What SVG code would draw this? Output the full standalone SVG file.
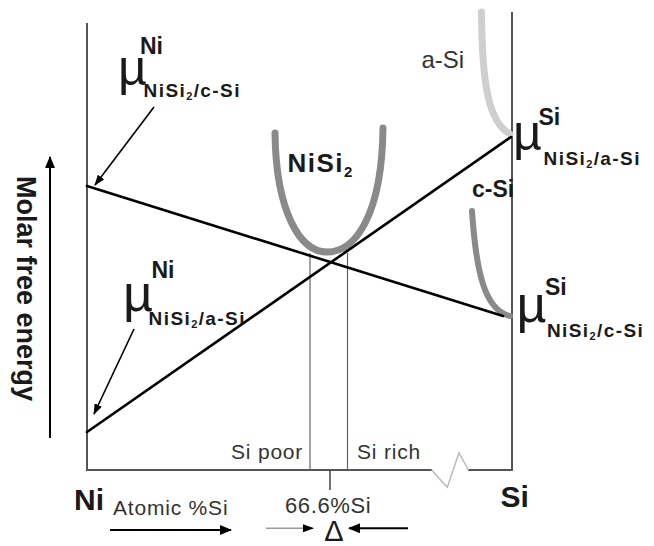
<svg xmlns="http://www.w3.org/2000/svg" width="654" height="546" viewBox="0 0 654 546">
<defs>
<style>
.t{font-family:"Liberation Sans",Arial,sans-serif;fill:#1a1a1a}
.b{font-weight:bold}
.r{fill:#333}
.mu{font-family:"Liberation Sans",Arial,sans-serif;fill:#1a1a1a}
.sub{font-family:"Liberation Sans",Arial,sans-serif;font-weight:bold;font-size:19px;letter-spacing:1.4px;fill:#1a1a1a}
.sup{font-family:"Liberation Sans",Arial,sans-serif;font-weight:bold;font-size:23px;fill:#1a1a1a}
.axis{stroke:#555;stroke-width:2;fill:none}
.thin{stroke:#666;stroke-width:1.2;fill:none}
.tan{stroke:#000;stroke-width:2.6;fill:none;stroke-linecap:round}
.curve{fill:none;stroke-linecap:round}
.arr{stroke:#000;stroke-width:1.6;fill:none}
</style>
<marker id="ah" viewBox="0 0 12 10" refX="11" refY="5" markerWidth="12" markerHeight="10" markerUnits="userSpaceOnUse" orient="auto"><path d="M0,0 L12,5 L0,10 z" fill="#000"/></marker>
<marker id="ahs" viewBox="0 0 11 8" refX="10" refY="4" markerWidth="11" markerHeight="8" markerUnits="userSpaceOnUse" orient="auto"><path d="M0,0 L11,4 L0,8 z" fill="#000"/></marker>
</defs>
<rect width="654" height="546" fill="#fff"/>

<g id="axes">
<line class="axis" x1="87" y1="23" x2="87" y2="471"/>
<line class="axis" x1="512" y1="12" x2="512" y2="471"/>
<line class="axis" x1="86" y1="470" x2="432" y2="470"/>
<line class="axis" x1="468" y1="470" x2="513" y2="470"/>
<polyline points="431.5,470 447.3,487.3 459,452.7 468.5,470.5" fill="none" stroke="#bbb" stroke-width="1.5"/>
<line class="thin" x1="310" y1="253" x2="310" y2="470"/>
<line class="thin" x1="347.5" y1="253" x2="347.5" y2="470"/>
<line x1="330" y1="470" x2="330" y2="490" stroke="#444" stroke-width="1.5"/>
</g>

<g id="yaxis-label">
<line x1="50" y1="438" x2="50" y2="157" stroke="#000" stroke-width="2" marker-end="url(#ah)"/>
<text class="t b" font-size="27" transform="translate(17,176) rotate(90)" x="0" y="0">Molar free energy</text>
</g>

<g id="curve-nisi2">
<path class="curve" d="M275,133 C276,212 300,252 327,252 C356,252 382,214 383,128" stroke="#8a8a8a" stroke-width="7"/>
<text class="t b" x="287.5" y="171.7" font-size="26" letter-spacing="1.5">NiSi<tspan font-size="15" dy="5">2</tspan></text>
</g>

<g id="curve-asi">
<path class="curve" d="M481.5,12 C482,82 488,122 510,134" stroke="#cfcfcf" stroke-width="7"/>
<text class="t r" x="421.5" y="68.3" font-size="24">a-Si</text>
</g>

<g id="curve-csi">
<path class="curve" d="M472,211 C476,270 484,310 510,316" stroke="#8a8a8a" stroke-width="6"/>
<text class="t b" x="472" y="197" font-size="23">c-Si</text>
</g>

<g id="tangent-csi">
<line class="tan" x1="87" y1="186" x2="503" y2="316"/>
</g>
<g id="tangent-asi">
<line class="tan" x1="87" y1="432" x2="511" y2="137"/>
</g>

<g id="label-ni-csi">
<text class="mu" x="118" y="84.5" font-size="50">µ</text>
<text class="sup" x="140" y="54">Ni</text>
<text class="sub" x="143.6" y="96.7">NiSi<tspan font-size="11" dy="3">2</tspan><tspan dy="-3">/c-Si</tspan></text>
</g>

<g id="label-ni-asi">
<text class="mu" x="123" y="310.8" font-size="52">µ</text>
<text class="sup" x="151.5" y="278.3">Ni</text>
<text class="sub" x="148.6" y="325">NiSi<tspan font-size="11" dy="3">2</tspan><tspan dy="-3">/a-Si</tspan></text>
</g>

<g id="label-si-asi">
<text class="mu" x="513" y="149.5" font-size="50">µ</text>
<text class="sup" x="538.5" y="125">Si</text>
<text class="sub" x="543.6" y="165">NiSi<tspan font-size="11" dy="3">2</tspan><tspan dy="-3">/a-Si</tspan></text>
</g>

<g id="label-si-csi">
<text class="mu" x="516.4" y="322.4" font-size="52">µ</text>
<text class="sup" x="545" y="295">Si</text>
<text class="sub" x="547" y="337.3">NiSi<tspan font-size="11" dy="3">2</tspan><tspan dy="-3">/c-Si</tspan></text>
</g>

<g id="region-labels">
<text class="t r" x="231" y="459" font-size="21" letter-spacing="0.8">Si poor</text>
<text class="t r" x="357" y="458.5" font-size="21" letter-spacing="0.8">Si rich</text>
</g>

<g id="x-axis-labels">
<text class="t b" x="74" y="510" font-size="30">Ni</text>
<text class="t r" x="113" y="515" font-size="21" letter-spacing="0.8">Atomic %Si</text>
<text class="t b" x="500.5" y="506.7" font-size="30">Si</text>
<text class="t r" x="285" y="513.3" font-size="22" letter-spacing="0.6">66.6%Si</text>
<text class="t" x="334" y="540.5" font-size="29" text-anchor="middle">Δ</text>
</g>

<g id="connectors">
<line class="arr" x1="154" y1="107" x2="95" y2="185" marker-end="url(#ahs)"/>
<line class="arr" x1="134" y1="329" x2="94" y2="414" marker-end="url(#ahs)"/>
<line x1="110" y1="530" x2="231" y2="530" stroke="#000" stroke-width="2" marker-end="url(#ah)"/>
<line x1="266" y1="528.3" x2="313" y2="528.3" stroke="#999" stroke-width="1.5" marker-end="url(#ahs)"/>
<line x1="408" y1="528.3" x2="349" y2="528.3" stroke="#000" stroke-width="2" marker-end="url(#ah)"/>
</g>
</svg>
